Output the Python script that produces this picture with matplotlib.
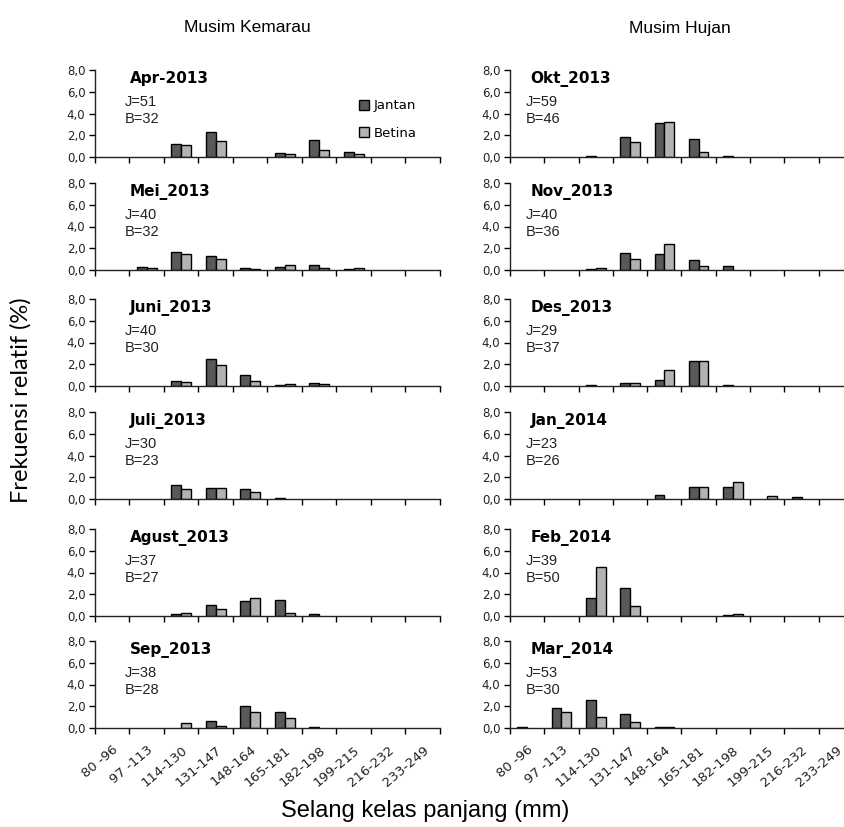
import numpy as np
import matplotlib.pyplot as plt
from matplotlib.patches import Patch

# length classes (mm)
classes = ['80 -96', '97 -113', '114-130', '131-147', '148-164',
           '165-181', '182-198', '199-215', '216-232', '233-249']

# dry season (left column)
dry_months = ['Apr-2013', 'Mei_2013', 'Juni_2013', 'Juli_2013', 'Agust_2013', 'Sep_2013']
dry_n = [(51, 32), (40, 32), (40, 30), (30, 23), (37, 27), (38, 28)]
dry_jantan = [
    [0, 0, 1.2, 2.3, 0, 0.35, 1.55, 0.45, 0, 0],
    [0, 0.3, 1.65, 1.25, 0.2, 0.3, 0.5, 0.1, 0, 0],
    [0, 0, 0.5, 2.45, 1.0, 0.1, 0.3, 0, 0, 0],
    [0, 0, 1.3, 1.0, 0.95, 0.1, 0, 0, 0, 0],
    [0, 0, 0.15, 1.05, 1.35, 1.45, 0.2, 0, 0, 0],
    [0, 0, 0, 0.6, 2.05, 1.45, 0.1, 0, 0, 0],
]
dry_betina = [
    [0, 0, 1.1, 1.5, 0, 0.25, 0.65, 0.25, 0, 0],
    [0, 0.15, 1.45, 1.05, 0.12, 0.45, 0.2, 0.2, 0, 0],
    [0, 0, 0.4, 1.95, 0.5, 0.2, 0.2, 0, 0, 0],
    [0, 0, 0.95, 1.0, 0.6, 0, 0, 0, 0, 0],
    [0, 0, 0.3, 0.65, 1.7, 0.3, 0, 0, 0, 0],
    [0, 0, 0.5, 0.2, 1.5, 0.95, 0, 0, 0, 0],
]

# wet season (right column)
wet_months = ['Okt_2013', 'Nov_2013', 'Des_2013', 'Jan_2014', 'Feb_2014', 'Mar_2014']
wet_n = [(59, 46), (40, 36), (29, 37), (23, 26), (39, 50), (53, 30)]
wet_jantan = [
    [0, 0, 0.1, 1.85, 3.1, 1.65, 0.1, 0, 0, 0],
    [0, 0, 0.1, 1.55, 1.45, 0.95, 0.4, 0, 0, 0],
    [0, 0, 0.1, 0.3, 0.55, 2.3, 0.1, 0, 0, 0],
    [0, 0, 0, 0, 0.35, 1.1, 1.1, 0, 0.2, 0],
    [0, 0, 1.65, 2.55, 0, 0, 0.05, 0, 0, 0],
    [0.1, 1.8, 2.55, 1.3, 0.1, 0, 0, 0, 0, 0],
]
wet_betina = [
    [0, 0, 0, 1.4, 3.2, 0.5, 0, 0, 0, 0],
    [0, 0, 0.2, 1.0, 2.4, 0.4, 0, 0, 0, 0],
    [0, 0, 0, 0.3, 1.45, 2.3, 0, 0, 0, 0],
    [0, 0, 0, 0, 0, 1.1, 1.6, 0.3, 0, 0],
    [0, 0, 4.5, 0.9, 0, 0, 0.2, 0, 0, 0],
    [0, 1.5, 1.0, 0.55, 0.1, 0, 0, 0, 0, 0],
]

C_J = '#595959'
C_B = '#b3b3b3'
W, H = 845, 827
baselines = [157, 270, 386, 499, 616, 728]
ax_h = 87
cols = [(95, 345), (510, 343)]
bw = 0.285

fig = plt.figure(figsize=(W / 100, H / 100), dpi=100)


def draw_panel(ax, title, n, jantan, betina, bottom_row, tx, nx):
    x = np.arange(len(classes))
    jv = np.array(jantan, dtype=float)
    bv = np.array(betina, dtype=float)
    mj = jv > 0
    mb = bv > 0
    ax.bar(x[mj] - bw / 2, jv[mj], bw, color=C_J, edgecolor='black', linewidth=1.0)
    ax.bar(x[mb] + bw / 2, bv[mb], bw, color=C_B, edgecolor='black', linewidth=1.0)
    ax.set_xlim(-0.5, len(classes) - 0.5)
    ax.set_ylim(0, 8)
    ax.set_yticks([0, 2, 4, 6, 8])
    ax.set_yticklabels(['0,0', '2,0', '4,0', '6,0', '8,0'], fontsize=8.5,
                       family='DejaVu Sans', color='#222222')
    # tick marks sit on class boundaries, labels in the middle
    ax.set_xticks(np.arange(len(classes) + 1) - 0.5)
    ax.set_xticklabels([])
    ax.set_xticks(x, minor=True)
    if bottom_row:
        ax.set_xticklabels(classes, minor=True, rotation=40, ha='right',
                           rotation_mode='anchor', fontsize=9.5,
                           family='DejaVu Sans', color='#222222')
    ax.tick_params(axis='x', which='minor', length=0, pad=11)
    ax.tick_params(axis='x', which='major', length=4, width=1, direction='out')
    ax.tick_params(axis='y', length=4, width=1, direction='out', pad=3)
    for s in ['top', 'right']:
        ax.spines[s].set_visible(False)
    for s in ['left', 'bottom']:
        ax.spines[s].set_linewidth(1.0)
        ax.spines[s].set_color('#222222')
    ax.text(tx, 0.9, title, transform=ax.transAxes, fontsize=11,
            fontweight='bold', family='DejaVu Sans', va='center')
    ax.text(nx, 0.63, f'J={n[0]}', transform=ax.transAxes, fontsize=10.5,
            family='Liberation Sans', va='center', color='#222222')
    ax.text(nx, 0.44, f'B={n[1]}', transform=ax.transAxes, fontsize=10.5,
            family='Liberation Sans', va='center', color='#222222')


axes = []
for c, (months, ns, js, bs) in enumerate([
        (dry_months, dry_n, dry_jantan, dry_betina),
        (wet_months, wet_n, wet_jantan, wet_betina)]):
    x0, w = cols[c]
    for r in range(6):
        ax = fig.add_axes([x0 / W, 1 - baselines[r] / H, w / W, ax_h / H])
        tx, nx = (0.1, 0.085) if c == 0 else (0.06, 0.045)
        draw_panel(ax, months[r], ns[r], js[r], bs[r], r == 5, tx, nx)
        axes.append(ax)

# legend only in the first panel
handles = [Patch(facecolor=C_J, edgecolor='black', label='Jantan'),
           Patch(facecolor=C_B, edgecolor='black', label='Betina')]
axes[0].legend(handles=handles, loc='upper left', bbox_to_anchor=(0.73, 0.8),
               frameon=False, handlelength=0.8, handleheight=0.8,
               handletextpad=0.35, labelspacing=1.1,
               prop={'family': 'DejaVu Sans', 'size': 9.5})

fig.text(247 / W, 1 - 28 / H, 'Musim Kemarau', ha='center', va='center',
         fontsize=12.5, family='Liberation Sans')
fig.text(680 / W, 1 - 28 / H, 'Musim Hujan', ha='center', va='center',
         fontsize=12.5, family='Liberation Sans')
fig.text(21 / W, 1 - 400 / H, 'Frekuensi relatif (%)', rotation=90,
         ha='center', va='center', fontsize=17, family='Lato')
fig.text(425 / W, 1 - 811 / H, 'Selang kelas panjang (mm)', ha='center',
         va='center', fontsize=17, family='Liberation Sans')

fig.savefig('out.png', dpi=100, facecolor='white')
